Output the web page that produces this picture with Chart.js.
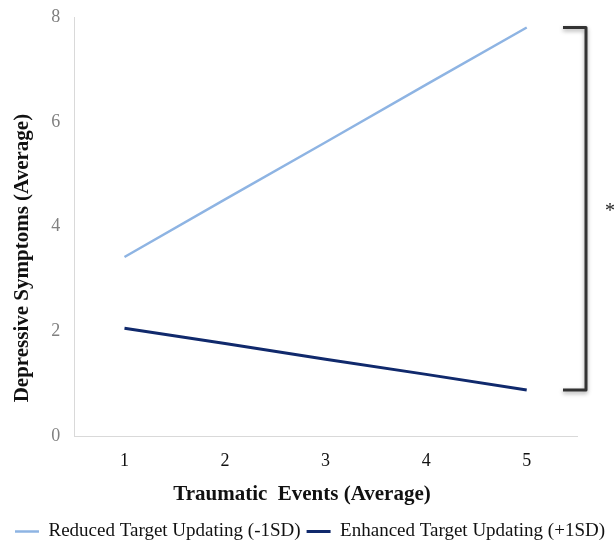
<!DOCTYPE html>
<html>
<head>
<meta charset="utf-8">
<script src="https://cdn.jsdelivr.net/npm/chart.js@4.4.1/dist/chart.umd.min.js"></script>
<style>
    html, body { margin: 0; padding: 0; background: #fff; }
    #wrap { width: 616px; height: 543px; }
</style>
</head>
<body>
<div id="wrap"><canvas id="chart"></canvas></div>
<script>
const traumaLevels = ['1', '2', '3', '4', '5'];
const reducedUpdating = [3.42, 4.52, 5.61, 6.71, 7.8];
const enhancedUpdating = [2.06, 1.77, 1.47, 1.18, 0.88];
const yTicks = [0, 2, 4, 6, 8];

const serif = '"Liberation Serif", "Times New Roman", serif';

// bracket + asterisk on the right, spanning the two line ends
const bracketPlugin = {
    id: 'bracket',
    afterDraw(chart) {
        const { ctx, chartArea, scales } = chart;
        const last = traumaLevels.length - 1;
        const yTop = scales.y.getPixelForValue(reducedUpdating[last]);
        const yBot = scales.y.getPixelForValue(enhancedUpdating[last]);
        const xLeft = chartArea.right - 14;
        const xRight = chartArea.right + 9;
        ctx.save();
        ctx.shadowColor = 'rgba(0,0,0,0.35)';
        ctx.shadowBlur = 4;
        ctx.shadowOffsetY = 2;
        ctx.strokeStyle = '#333333';
        ctx.lineWidth = 3;
        ctx.lineJoin = 'round';
        ctx.beginPath();
        ctx.moveTo(xLeft, yTop);
        ctx.lineTo(xRight, yTop);
        ctx.lineTo(xRight, yBot);
        ctx.lineTo(xLeft, yBot);
        ctx.stroke();
        ctx.restore();

        ctx.save();
        ctx.fillStyle = '#222';
        ctx.font = '20px ' + serif;
        ctx.textAlign = 'center';
        ctx.textBaseline = 'middle';
        ctx.fillText('*', xRight + 24, (yTop + yBot) / 2 + 3);
        ctx.restore();
    }
};

// trailing spaces nudge the centred axis titles off-centre, as in the original
const pad = n => ' '.repeat(n);

new Chart(document.getElementById('chart').getContext('2d'), {
    type: 'line',
    data: {
        labels: traumaLevels,
        datasets: [{
            label: 'Reduced Target Updating (-1SD)',
            data: reducedUpdating,
            borderColor: '#8EB4E3',
            backgroundColor: '#8EB4E3',
            borderWidth: 2.5,
            pointRadius: 0,
            tension: 0
        }, {
            label: 'Enhanced Target Updating (+1SD)',
            data: enhancedUpdating,
            borderColor: '#10296C',
            backgroundColor: '#10296C',
            borderWidth: 3,
            pointRadius: 0,
            tension: 0
        }]
    },
    options: {
        responsive: true,
        maintainAspectRatio: false,
        animation: false,
        layout: { padding: { left: 4, right: 0, top: 0, bottom: -8 } },
        plugins: {
            legend: {
                position: 'bottom',
                labels: {
                    usePointStyle: true,
                    pointStyle: 'line',
                    pointStyleWidth: 24,
                    padding: 6,
                    color: '#111',
                    font: { family: serif, size: 19 }
                }
            },
            tooltip: { enabled: false }
        },
        scales: {
            x: {
                offset: true,
                grid: { display: false, drawTicks: false },
                border: { display: true, color: '#d9d9d9', width: 1 },
                ticks: { color: '#111', padding: 14, font: { family: serif, size: 18 } },
                title: {
                    display: true,
                    text: 'Traumatic  Events (Average)' + pad(9),
                    color: '#111',
                    padding: { top: -4, bottom: 9 },
                    font: { family: serif, size: 21, weight: 'bold' }
                }
            },
            y: {
                min: 0,
                max: 8,
                afterBuildTicks(axis) {
                    axis.ticks = yTicks.map(v => ({ value: v }));
                },
                // keep the top of the plot close to the canvas edge
                afterFit(axis) { axis.paddingTop = 17; },
                grid: { display: false, drawTicks: false },
                border: { display: true, color: '#d9d9d9', width: 1 },
                ticks: { color: '#808080', padding: 14, font: { family: serif, size: 18 } },
                title: {
                    display: true,
                    text: 'Depressive Symptoms (Average)' + pad(12),
                    color: '#111',
                    padding: { top: 6, bottom: 2 },
                    font: { family: serif, size: 21, weight: 'bold' }
                }
            },
            // empty right-hand axis that only reserves room for the bracket
            gap: {
                position: 'right',
                display: true,
                grid: { display: false, drawTicks: false },
                border: { display: false },
                ticks: { display: false },
                afterFit(axis) { axis.width = 39; }
            }
        }
    },
    plugins: [bracketPlugin]
});
</script>
</body>
</html>
